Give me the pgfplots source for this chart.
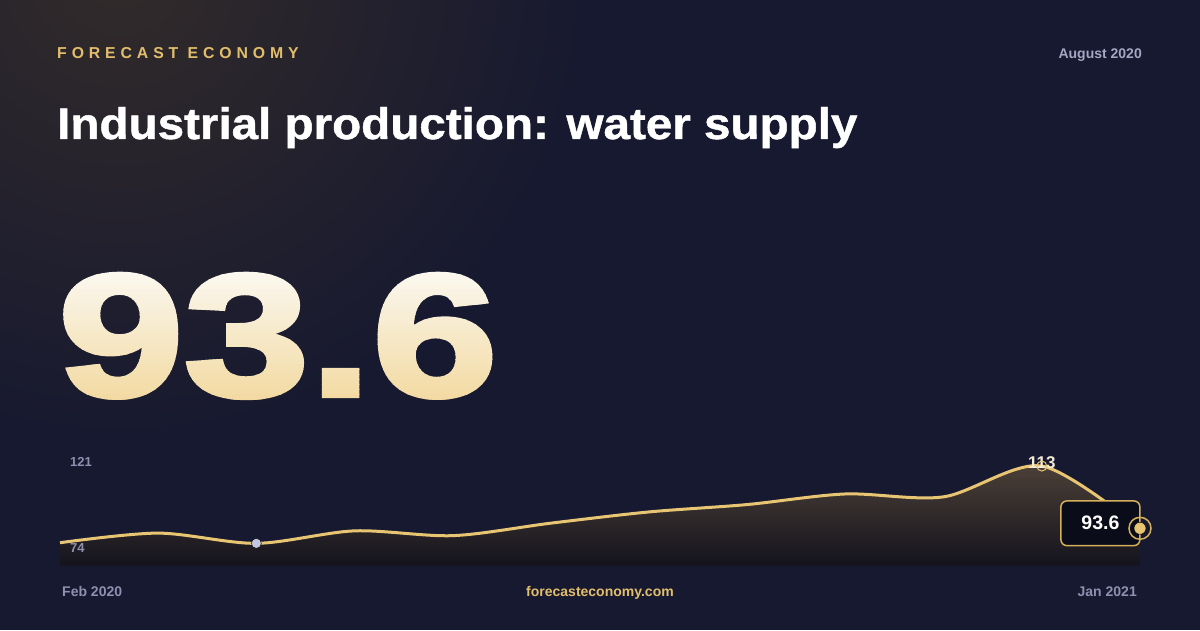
\documentclass[border=0pt]{standalone}
\usepackage{pgfplots}
\pgfplotsset{compat=1.18}
\usepackage{fontspec}
\setmainfont{Liberation Sans}
\newfontfamily\heavyfont{Liberation Sans}[FakeBold=2.5]
\newfontfamily\titlefont{Liberation Sans}[FakeBold=1]

\definecolor{bg}{HTML}{171930}
\definecolor{glow}{HTML}{322B2A}
\definecolor{gold}{HTML}{E8C572}
\definecolor{brand}{HTML}{E2BE6C}
\definecolor{muted}{HTML}{A4A6C2}
\definecolor{dimlab}{HTML}{8D90AE}
\definecolor{numtop}{HTML}{FCFBF8}
\definecolor{numbot}{HTML}{F2D89E}
\definecolor{areatop}{HTML}{4D4138}
\definecolor{areabot}{HTML}{14131D}
\definecolor{boxfill}{HTML}{0B0C19}
\definecolor{boxedge}{HTML}{D5B05C}
\definecolor{mindot}{HTML}{C3C7DF}
\definecolor{peaklab}{HTML}{F3EAD8}

% monthly index, Feb 2020 = 0 ... Jan 2021 = 11
\pgfplotstableread{
m  v
0  89.1
1  92.1
2  88.9
3  92.8
4  91.3
5  95.2
6  98.7
7  101.0
8  104.3
9  103.4
10 113.0
11 93.6
}\series

\begin{document}
\begin{tikzpicture}[x=1pt,y=1pt]
  \fill[bg] (0,0) rectangle (1200,630);
  \useasboundingbox (0,0) rectangle (1200,630);
  \begin{scope}
    \clip (0,0) rectangle (1200,630);
    \shade[inner color=glow, outer color=bg] (120,660) circle (470);
  \end{scope}

  % header
  \node[anchor=base west, inner sep=0, text=brand] at (57,571)
    {\fontsize{15.8}{16}\selectfont\bfseries\addfontfeatures{LetterSpace=31}FORECAST ECONOMY};
  \node[anchor=base east, inner sep=0, text=muted] at (1142,571)
    {\fontsize{14}{14}\selectfont\bfseries August 2020};
  \node[anchor=base west, inner sep=0, text=white] at (57,491)
    {\resizebox{800pt}{32pt}{\titlefont\bfseries Industrial production: water supply}};

  % big number, gradient by horizontal bands
  \foreach \i in {0,...,31} {
    \pgfmathsetmacro\yt{375-\i*5}
    \pgfmathsetmacro\yb{\yt-5}
    \pgfmathsetmacro\p{max(0,min(100,100*(370-(\yt-2.5))/147))}
    \begin{scope}
      \clip (0,\yb) rectangle (1200,\yt);
      \node[anchor=base west, inner sep=0, text={numbot!\p!numtop}] at (58,234)
        {\resizebox{439pt}{122pt}{\heavyfont\bfseries 93.6}};
    \end{scope}
  }

  \begin{axis}[
      at={(60pt,64.5pt)}, anchor=south west,
      width=1080pt, height=115.5pt, scale only axis,
      xmin=0, xmax=11, ymin=82, ymax=118,
      hide axis, clip=false
    ]
    \addplot[draw=none, top color=areatop, bottom color=areabot, smooth]
      table[x=m, y=v] {\series} \closedcycle;
    \addplot[gold, line width=3pt, smooth] table[x=m, y=v] {\series};

    % lowest month
    \addplot[only marks, mark=*, mark size=5pt, mark options={draw=none, fill=mindot}]
      coordinates {(2,88.9)};

    % peak
    \node[anchor=base, inner sep=0, text=peaklab, font=\bfseries\fontsize{17}{17}\selectfont]
      at (axis cs:10,113) [yshift=-2pt] {113};
    \addplot[only marks, mark=o, mark size=5pt, gold, line width=1pt]
      coordinates {(10,113)};

    % latest value
    \node[draw=boxedge, line width=1.5pt, fill=boxfill, rounded corners=6pt,
          minimum width=79pt, minimum height=44.7pt, inner sep=0,
          text=white, font=\bfseries\fontsize{19.5}{20}\selectfont]
      at (axis cs:11,93.6) [xshift=-39.6pt, yshift=5pt] {93.6};
    \addplot[only marks, mark=o, mark size=11pt, boxedge, line width=1.5pt]
      coordinates {(11,93.6)};
    \addplot[only marks, mark=*, mark size=6pt, mark options={draw=none, fill=gold}]
      coordinates {(11,93.6)};
  \end{axis}

  % chart annotations
  \node[anchor=base west, inner sep=0, text=dimlab, font=\bfseries\fontsize{13}{13}\selectfont]
    at (70,164) {121};
  \node[anchor=base west, inner sep=0, text=dimlab, font=\bfseries\fontsize{13}{13}\selectfont]
    at (70,77.7) {74};
  \node[anchor=base west, inner sep=0, text=dimlab, font=\bfseries\fontsize{14}{14}\selectfont]
    at (62,33.3) {Feb 2020};
  \node[anchor=base east, inner sep=0, text=dimlab, font=\bfseries\fontsize{14}{14}\selectfont]
    at (1137,33.3) {Jan 2021};
  \node[anchor=base, inner sep=0, text=brand, font=\bfseries\fontsize{14}{14}\selectfont]
    at (600,33.3) {forecasteconomy.com};
\end{tikzpicture}
\end{document}
